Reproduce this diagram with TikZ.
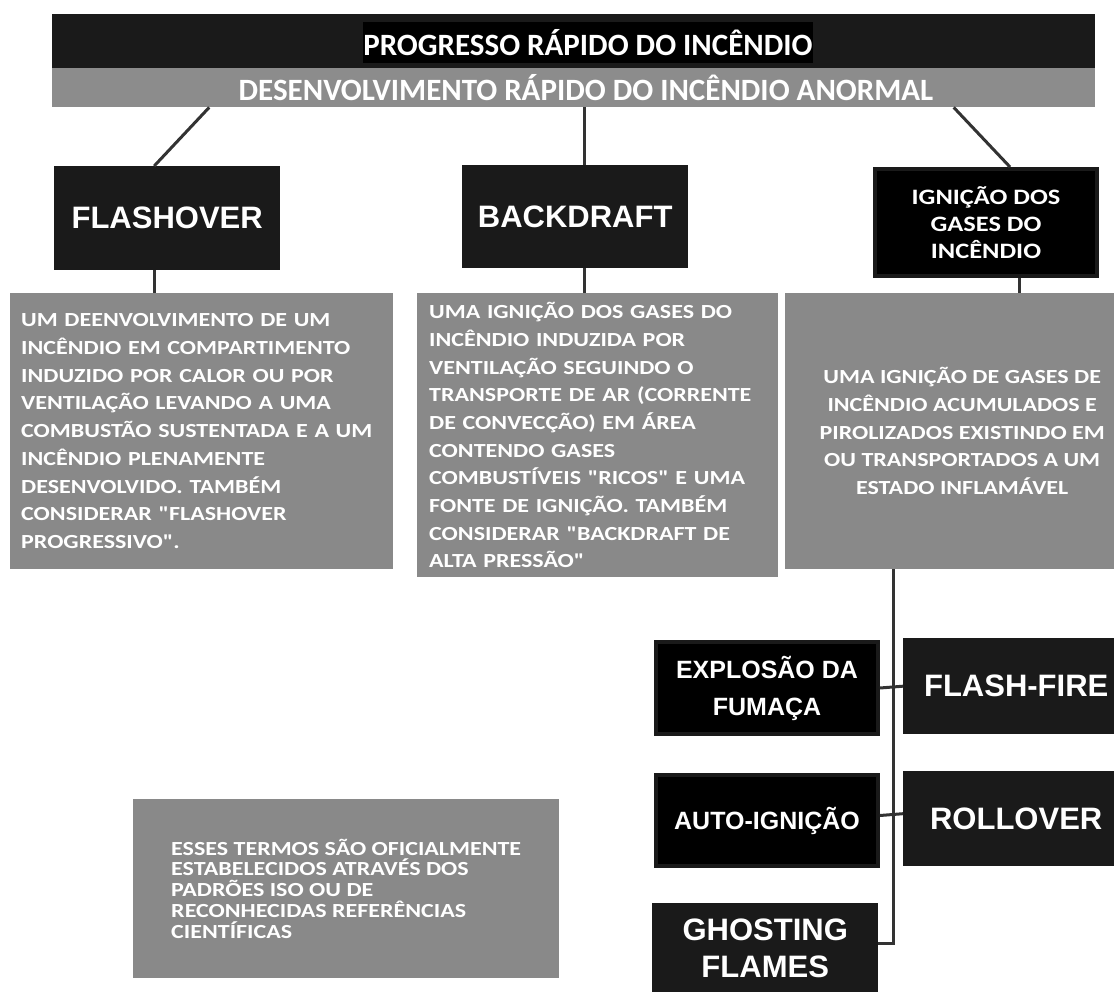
\documentclass[tikz,border=0pt]{standalone}
\usepackage{fontspec}
\newfontfamily\calibrifont{Carlito}
\newfontfamily\widefont{Carlito}[FakeStretch=1.2]
\newfontfamily\arialfont{Liberation Sans}
\usetikzlibrary{positioning}
\definecolor{BarDark}{RGB}{26,26,26}
\definecolor{BarGray}{RGB}{140,140,140}
\definecolor{DescGray}{RGB}{137,137,137}
\definecolor{LinkGray}{RGB}{51,51,51}
\tikzset{
  bar/.style={anchor=north west,inner sep=0pt,minimum width=1043pt},
  heading/.style={text=white,inner sep=0pt,
    font=\calibrifont\bfseries\fontsize{31}{34}\selectfont},
  term/.style={anchor=north west,fill=BarDark,text=white,align=center,
    inner sep=0pt,minimum width=226pt,
    font=\arialfont\bfseries\fontsize{31}{37}\selectfont},
  blackterm/.style={term,fill=black,draw=BarDark,line width=4pt,
    minimum width=222pt},
  desc/.style={anchor=north west,fill=DescGray,text=white,inner sep=0pt,
    font=\widefont\bfseries\fontsize{20}{27.7}\selectfont},
  link/.style={draw=LinkGray,line width=3pt}
}

\begin{document}
\begin{tikzpicture}[x=1pt,y=-1pt]
      \useasboundingbox (0,0) rectangle (1114,992);
      \clip (0,0) rectangle (1114,992);
      \node[bar,fill=BarDark,minimum height=54pt] (headbar) at (52,14) {};
      \node[bar,fill=BarGray,minimum height=39pt] (subbar) at (52,68) {};
      \node[heading,fill=black,minimum width=450pt,minimum height=41pt] (title)
        at (588,42.5) {PROGRESSO RÁPIDO DO INCÊNDIO};
      \node[heading] (subtitle) at (586,88)
        {DESENVOLVIMENTO RÁPIDO DO INCÊNDIO ANORMAL};

      \node[term,minimum height=104pt] (flashover) at (54,166) {FLASHOVER};
      \node[term,minimum height=103pt] (backdraft) at (462,165) {BACKDRAFT};
      \node[blackterm,minimum height=107pt,
        font=\widefont\bfseries\fontsize{22}{27}\selectfont] (ignicao)
        at (873,167) {IGNIÇÃO DOS\\GASES DO\\INCÊNDIO};

      \node[desc,minimum width=383pt,minimum height=276pt,text width=361pt,
        inner xsep=11pt,align=left] (flashdesc) at (10,293)
        {UM DEENVOLVIMENTO DE UM\\
         INCÊNDIO EM COMPARTIMENTO\\
         INDUZIDO POR CALOR OU POR\\
         VENTILAÇÃO LEVANDO A UMA\\
         COMBUSTÃO SUSTENTADA E A UM\\
         INCÊNDIO PLENAMENTE\\
         DESENVOLVIDO. TAMBÉM\\
         CONSIDERAR "FLASHOVER\\
         PROGRESSIVO".};
      \node[desc,minimum width=361pt,minimum height=284pt,text width=337pt,
        inner xsep=12pt,align=left] (backdesc) at (417,293)
        {UMA IGNIÇÃO DOS GASES DO\\
         INCÊNDIO INDUZIDA POR\\
         VENTILAÇÃO SEGUINDO O\\
         TRANSPORTE DE AR (CORRENTE\\
         DE CONVECÇÃO) EM ÁREA\\
         CONTENDO GASES\\
         COMBUSTÍVEIS "RICOS" E UMA\\
         FONTE DE IGNIÇÃO. TAMBÉM\\
         CONSIDERAR "BACKDRAFT DE\\
         ALTA PRESSÃO"};
      \node[desc,minimum width=354pt,minimum height=276pt,align=center]
        (igndesc) at (785,293)
        {UMA IGNIÇÃO DE GASES DE\\
         INCÊNDIO ACUMULADOS E\\
         PIROLIZADOS EXISTINDO EM\\
         OU TRANSPORTADOS A UM\\
         ESTADO INFLAMÁVEL};

      \node[blackterm,minimum height=92pt,
        font=\arialfont\bfseries\fontsize{25}{37}\selectfont] (explosao)
        at (654,640) {EXPLOSÃO DA\\FUMAÇA};
      \node[term,minimum height=96pt] (flashfire) at (903,638) {FLASH-FIRE};
      \node[blackterm,minimum height=91pt,
        font=\arialfont\bfseries\fontsize{25}{37}\selectfont] (autoignicao)
        at (654,773) {AUTO-IGNIÇÃO};
      \node[term,minimum height=95pt] (rollover) at (903,771) {ROLLOVER};
      \node[term,minimum height=90pt] (ghosting) at (652,903)
        {GHOSTING\\FLAMES};

      \node[desc,minimum width=426pt,minimum height=179pt,align=left,
        font=\widefont\bfseries\fontsize{20}{20.8}\selectfont]
        (note) at (133,799)
        {ESSES TERMOS SÃO OFICIALMENTE\\
         ESTABELECIDOS ATRAVÉS DOS\\
         PADRÕES ISO OU DE\\
         RECONHECIDAS REFERÊNCIAS\\
         CIENTÍFICAS};

      \coordinate (flashdrop) at ([xshift=-13pt]flashover.south);
      \coordinate (backdrop) at ([xshift=9pt]backdraft.south);
      \coordinate (igndrop) at ([xshift=33pt]ignicao.south);
      \coordinate (trunk) at ([xshift=-69pt]igndesc.south);

      \draw[link] ([xshift=-364.5pt]subbar.south) -- ([xshift=-13pt]flashover.north);
      \draw[link] ([xshift=10.5pt]subbar.south) -- ([xshift=9pt]backdraft.north);
      \draw[link] ([xshift=380pt]subbar.south) -- ([xshift=24pt]ignicao.north);
      \draw[link] (flashdrop) -- (flashdrop |- flashdesc.north);
      \draw[link] (backdrop) -- (backdrop |- backdesc.north);
      \draw[link] (igndrop) -- (igndrop |- igndesc.north);
      \draw[link] (trunk) |- ([yshift=5pt]ghosting.east);
      \draw[link] (explosao.east) -- (flashfire.west);
      \draw[link] ([yshift=5pt]autoignicao.east) -- ([yshift=5pt]rollover.west);
    \end{tikzpicture}
\end{document}
